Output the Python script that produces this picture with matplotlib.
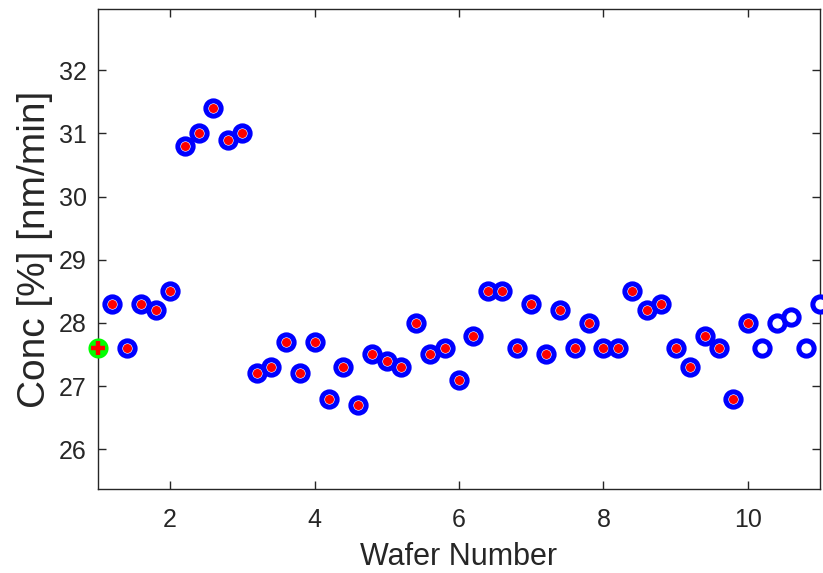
import matplotlib
matplotlib.use("Agg")
import matplotlib.pyplot as plt
import numpy as np

plt.rcParams['font.family'] = ['Liberation Sans', 'DejaVu Sans']

wafer = [1.0, 1.2, 1.4, 1.6, 1.8, 2.0, 2.2, 2.4, 2.6, 2.8, 3.0, 3.2, 3.4, 3.6, 3.8,
         4.0, 4.2, 4.4, 4.6, 4.8, 5.0, 5.2, 5.4, 5.6, 5.8, 6.0, 6.2, 6.4, 6.6, 6.8,
         7.0, 7.2, 7.4, 7.6, 7.8, 8.0, 8.2, 8.4, 8.6, 8.8, 9.0, 9.2, 9.4, 9.6, 9.8,
         10.0, 10.2, 10.4, 10.6, 10.8, 11.0]
conc = [27.6, 28.3, 27.6, 28.3, 28.2, 28.5, 30.8, 31.0, 31.4, 30.9, 31.0, 27.2, 27.3, 27.7, 27.2,
        27.7, 26.8, 27.3, 26.7, 27.5, 27.4, 27.3, 28.0, 27.5, 27.6, 27.1, 27.8, 28.5, 28.5, 27.6,
        28.3, 27.5, 28.2, 27.6, 28.0, 27.6, 27.6, 28.5, 28.2, 28.3, 27.6, 27.3, 27.8, 27.6, 26.8,
        28.0, 27.6, 28.0, 28.1, 27.6, 28.3]
n_measured = 46   # points with red inner dot (wafers 1.0 .. 10.0)

fig = plt.figure(figsize=(8.23, 5.73), dpi=100)
ax = fig.add_axes([0.119, 0.1466, 0.8774, 0.8377])

tc = '#262626'
# blue rings for all but the first point
ax.plot(wafer[1:], conc[1:], linestyle='none', marker='o', ms=11, mfc='white',
        mec='#0000ff', mew=3.6, clip_on=False, zorder=3)
# red dots for measured
ax.plot(wafer[1:n_measured], conc[1:n_measured], linestyle='none', marker='o', ms=6.5,
        mfc='#ff0000', mec='none', clip_on=False, zorder=4)
# first point: green with red plus
ax.plot(wafer[:1], conc[:1], linestyle='none', marker='o', ms=14.5, mfc='#00ff00',
        mec='none', clip_on=False, zorder=5)
ax.plot(wafer[:1], conc[:1], linestyle='none', marker='+', ms=10, mec='#ff0000',
        mew=3.2, clip_on=False, zorder=6)

ax.set_xlim(1, 11)
ax.set_ylim(25.37, 32.97)
ax.set_xticks([2, 4, 6, 8, 10])
ax.set_yticks([26, 27, 28, 29, 30, 31, 32])
ax.tick_params(direction='in', length=6, width=1, colors=tc, labelsize=18,
               top=True, right=True)
ax.tick_params(axis='x', pad=14)
ax.tick_params(axis='y', pad=8)
for s in ax.spines.values():
    s.set_color(tc)
    s.set_linewidth(1)
ax.set_xlabel('Wafer Number', fontsize=22, color=tc, labelpad=7)
ax.set_ylabel('Conc [%] [nm/min]', fontsize=28, color=tc, labelpad=4)

fig.savefig('out.png', dpi=100)
